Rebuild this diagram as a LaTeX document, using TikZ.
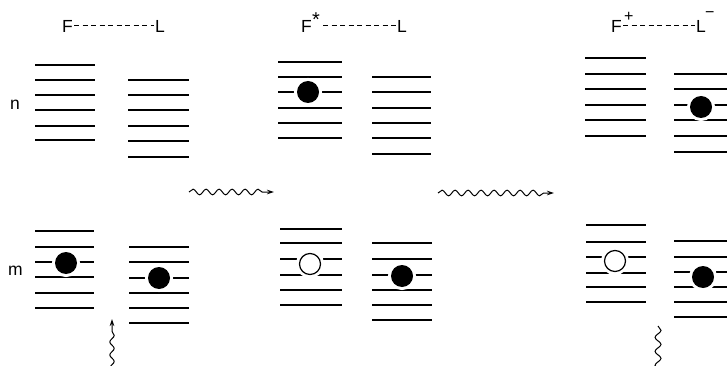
\documentclass[tikz,border=0pt]{standalone}
\usepackage{fontspec}
\setmainfont{Liberation Sans}
\usetikzlibrary{decorations.pathmorphing,arrows.meta}
\newcommand\levelstack[3]{\foreach \yy in {#3} \draw[lvl] (#1,\yy) -- (#2,\yy);}
\begin{document}
\begin{tikzpicture}[x=1pt,y=-1pt,
  lvl/.style={line width=1.1pt},
  lbl/.style={inner sep=0pt, anchor=base west, font=\fontsize{17.5}{17.5}\selectfont},
  sup/.style={inner sep=0pt, anchor=base west, font=\fontsize{16}{16}\selectfont},
  bond/.style={line width=0.8pt, dash pattern=on 5pt off 3.5pt},
  elec/.style={circle, fill=black, inner sep=0pt, minimum size=22pt, preaction={draw=white, line width=6pt}},
  hole/.style={circle, draw=black, fill=white, line width=1.2pt, inner sep=0pt, minimum size=21pt, preaction={draw=white, line width=7pt}},
  wave/.style={line width=1pt, decorate, decoration={snake, amplitude=2.8pt, segment length=13pt, post length=7pt}},
  tip/.style={-{Stealth[length=7pt,width=4.5pt]}}
]
\useasboundingbox (0,0) rectangle (727,366);

% labels
\node[lbl] (f1) at (62,33) {F};
\node[lbl] (l1) at (155,33) {L};
\draw[bond] (74,25) -- (154,25);

\node[lbl] (f2) at (301,33) {F};
\node[sup,font=\fontsize{20}{20}\selectfont] (f2s) at (312,27) {*};
\node[lbl] (l2) at (397,33) {L};
\draw[bond] (323,25) -- (396,25);

\node[lbl] (f3) at (611,33) {F};
\node[sup] (f3s) at (624,22) {+};
\node[lbl] (l3) at (696,33) {L};
\node[sup] (l3s) at (705,18) {−};
\draw[bond] (623,25) -- (695,25);

\node[lbl] (n) at (10,110) {n};
\node[lbl] (m) at (8,275) {m};

% panel 1
\levelstack{35}{95}{65,80,95,110,126,140}
\levelstack{128}{189}{80,95,110,126,141,157}
\levelstack{35}{94}{231,247,262,277,293,308}
\levelstack{129}{189}{247,262,278,293,308,323}
\node[elec] (e1) at (66,263) {};
\node[elec] (e2) at (159,278) {};

% panel 2
\levelstack{278}{342}{62,77,92,108,123,138}
\levelstack{372}{431}{77,92,108,123,138,154}
\levelstack{280}{342}{229,243,259,275,290,305}
\levelstack{372}{432}{243,259,275,290,305,320}
\node[elec] (e3) at (308,92) {};
\node[hole] (h1) at (310,264) {};
\node[elec] (e4) at (402,276) {};

% panel 3
\levelstack{585}{646}{58,74,89,105,120,136}
\levelstack{674}{727}{74,89,105,120,136,152}
\levelstack{586}{646}{225,242,257,273,287,302}
\levelstack{674}{727}{241,257,272,287,302,317}
\node[elec] (e5) at (701,107) {};
\node[hole] (h2) at (615,261) {};
\node[elec] (e6) at (703,277) {};

% wavy connectors
\coordinate (a1s) at (189,192);
\coordinate (a1e) at (274,192);
\coordinate (a2s) at (438,193);
\coordinate (a2e) at (554,193);
\coordinate (a3s) at (112,372);
\coordinate (a3e) at (112,319);
\coordinate (a4s) at (658,326);
\coordinate (a4e) at (658,378);
\draw[wave,tip] (a1s) -- (a1e);
\draw[wave,tip] (a2s) -- (a2e);
\draw[wave,tip,decoration={snake, amplitude=2.2pt, segment length=13pt, post length=8pt}] (a3s) -- (a3e);
\draw[wave,decoration={snake, amplitude=3pt, segment length=14pt}] (a4s) -- (a4e);
\end{tikzpicture}
\end{document}
